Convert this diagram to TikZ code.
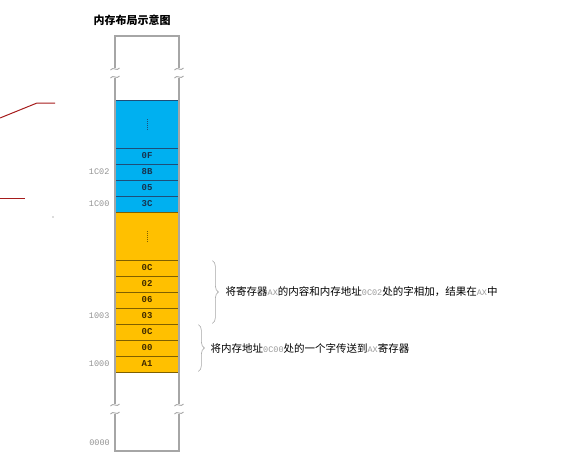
\documentclass[tikz,border=0pt]{standalone}
\usepackage{fontspec}
\setmainfont{Liberation Sans}
\newfontfamily\cjkfont{Noto Sans CJK SC}
\newfontfamily\cellfont{Liberation Mono}
\usepackage{xcolor}
\usetikzlibrary{positioning,decorations.pathreplacing}
\definecolor{memblue}{HTML}{00B0F0}
\definecolor{memyellow}{HTML}{FFC000}
\definecolor{blueedge}{HTML}{1F4E79}
\definecolor{yellowedge}{HTML}{7F6000}
\definecolor{bluetext}{HTML}{17324D}
\definecolor{yellowtext}{HTML}{3F2A00}
\definecolor{wallgray}{HTML}{A6A6A6}
\definecolor{latgray}{HTML}{9A9A9A}
\definecolor{redink}{HTML}{A61C1C}
\newcommand\lat[1]{{\cellfont\fontsize{8.5}{10}\selectfont\color{latgray}#1}}

\begin{document}
\begin{tikzpicture}[x=1pt,y=-1pt,
    cell/.style={draw, minimum width=64pt, minimum height=16pt, inner sep=0pt,
        line width=0.8pt, font=\cellfont\bfseries\fontsize{9}{10}\selectfont},
    bcell/.style={cell, draw=blueedge, fill=memblue, text=bluetext},
    ycell/.style={cell, draw=yellowedge, fill=memyellow, text=yellowtext},
    addr/.style={font=\cellfont\fontsize{8.5}{10}\selectfont, text=gray!85, inner sep=0pt},
    wall/.style={draw=wallgray, line width=1.2pt},
    vdots/.style={densely dotted, line width=1pt},
    membrace/.style={decorate, decoration={brace, amplitude=6pt}, draw=gray!70, line width=0.6pt},
    note/.style={font=\cjkfont\fontsize{10.5}{12}\selectfont, inner sep=0pt}]
\useasboundingbox (0,0) rectangle (587,469);

\node[font=\cjkfont\bfseries\fontsize{11}{13}\selectfont] (title) at (132,20) {内存布局示意图};

% blue part
\node[bcell, minimum height=48pt] (bdots) at (147,124) {};
\draw[vdots, blueedge] ([yshift=-6pt]bdots.center) -- ([yshift=6pt]bdots.center);
\foreach \t [count=\i] in {0F,8B,05,3C}
    \node[bcell] (b\i) at (147,140+16*\i) {\t};

% yellow part
\node[ycell, minimum height=48pt] (ydots) at (147,236) {};
\draw[vdots, yellowedge] ([yshift=-6pt]ydots.center) -- ([yshift=6pt]ydots.center);
\foreach \t [count=\i] in {0C,02,06,03,0C,00,A1}
    \node[ycell] (y\i) at (147,252+16*\i) {\t};

% walls with breaks
\draw[wall] (115,68) -- (115,36) -- (179,36) -- (179,68);
\draw[wall] (115,78) -- (115,404);
\draw[wall] (179,78) -- (179,404);
\draw[wall] (115,414) -- (115,451) -- (179,451) -- (179,414);
\foreach \x in {115,179}
    \foreach \y in {69,77,405,413}
        \draw[wall, line width=0.9pt] (\x-4.5,\y+1) .. controls (\x-2,\y-3) and (\x+2,\y+3) .. (\x+4.5,\y-1);

% addresses
\coordinate (base) at (115,443);
\node[addr, left=5pt of b2] (a1C02) {1C02};
\node[addr, left=5pt of b4] (a1C00) {1C00};
\node[addr, left=5pt of y4] (a1003) {1003};
\node[addr, left=5pt of y7] (a1000) {1000};
\node[addr, left=5pt of base] (a0000) {0000};

% instructions
\draw[membrace] ([xshift=33pt,yshift=-1pt]y1.north east) -- ([xshift=33pt,yshift=1pt]y4.south east)
    node[note, midway, right=13pt] (addnote) {将寄存器\lat{AX}的内容和内存地址\lat{0C02}处的字相加，结果在\lat{AX}中};
\draw[membrace] ([xshift=19pt,yshift=-1pt]y5.north east) -- ([xshift=19pt,yshift=1pt]y7.south east)
    node[note, midway, right=12pt] (movnote) {将内存地址\lat{0C00}处的一个字传送到\lat{AX}寄存器};

% red marks
\draw[redink, line width=1pt] (0,118) -- (37,103) -- (55,103);
\draw[redink, line width=1pt] (0,198) -- (25,198);
\fill[black!60] (53,217) circle (0.7);

\end{tikzpicture}
\end{document}
